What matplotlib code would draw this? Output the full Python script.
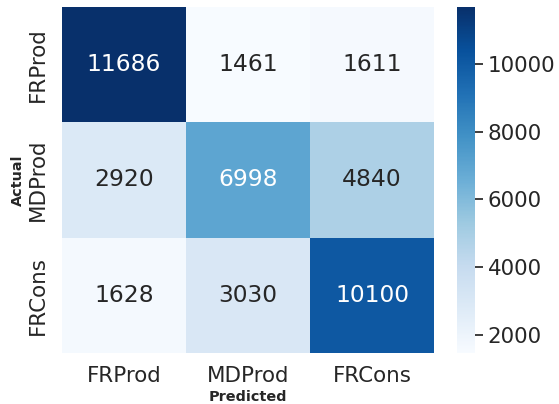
import matplotlib
matplotlib.use("Agg")
import matplotlib.pyplot as plt
import seaborn as sns
import numpy as np

classes = ["FRProd", "MDProd", "FRCons"]
row_frprod = [11686, 1461, 1611]
row_mdprod = [2920, 6998, 4840]
row_frcons = [1628, 3030, 10100]
cbar_ticks = [2000, 4000, 6000, 8000, 10000]

sns.set_theme(font_scale=1.4)
plt.rcParams['font.family'] = ['DejaVu Sans']

cm = np.array([row_frprod, row_mdprod, row_frcons])

fig = plt.figure(figsize=(5.59, 4.04), dpi=100)
ax = fig.add_axes([62/559, 1 - 353/404, (434-62)/559, (353-7)/404])
cax = fig.add_axes([457/559, 1 - 353/404, (475-457)/559, (353-7)/404])

sns.heatmap(cm, annot=True, fmt="d", cmap="Blues", ax=ax, cbar_ax=cax,
            xticklabels=classes, yticklabels=classes,
            annot_kws={"size": 16.8})
ax.set_xlabel("Predicted", fontsize=10.4, fontweight="bold", labelpad=2.5)
ax.set_ylabel("Actual", fontsize=10.4, fontweight="bold", labelpad=2.5)
ax.tick_params(axis="x", labelsize=15.4, length=0, pad=9.5)
ax.tick_params(axis="y", labelsize=15.4, length=0, pad=10)
cax.set_yticks(cbar_ticks)
cax.tick_params(labelsize=15.4, length=6, width=1.25, color="0.15", right=True, pad=3)

fig.savefig("out.png", dpi=100)
